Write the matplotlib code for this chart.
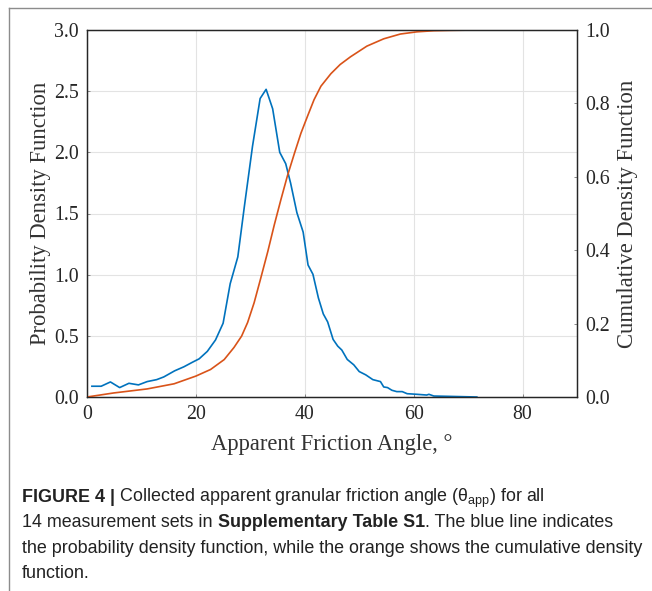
import matplotlib
matplotlib.use("Agg")
import matplotlib.pyplot as plt
from matplotlib.lines import Line2D

# probability density (blue)
pdf_angle = [0.9, 2.6, 4.3, 6.0, 7.7, 9.45, 11.05, 12.8, 14.1, 16.1, 17.8, 19.4, 20.6,
             22.1, 23.6, 25.0, 26.3, 27.7, 28.9, 30.4, 31.8, 32.9, 34.1, 35.4, 36.5,
             37.4, 38.55, 39.7, 40.6, 41.5, 42.5, 43.4, 44.2, 45.2, 46.05, 46.8, 47.8,
             49.0, 50.0, 51.2, 52.5, 53.9, 54.5, 55.2, 56.0, 56.9, 57.9, 58.8, 60.6,
             62.4, 62.8, 63.7, 66.7, 71.6]
pdf_value = [0.088, 0.088, 0.123, 0.077, 0.112, 0.099, 0.126, 0.142, 0.164, 0.214,
             0.247, 0.285, 0.312, 0.373, 0.466, 0.603, 0.926, 1.145, 1.556, 2.05, 2.44,
             2.515, 2.356, 2.0, 1.907, 1.748, 1.507, 1.348, 1.079, 1.003, 0.81, 0.679,
             0.614, 0.471, 0.416, 0.384, 0.307, 0.263, 0.208, 0.181, 0.142, 0.126,
             0.082, 0.077, 0.055, 0.044, 0.044, 0.027, 0.022, 0.016, 0.022, 0.008,
             0.005, 0.0]

# cumulative density (orange)
cdf_angle = [0.0, 4.9, 11.05, 16.0, 20.0, 22.7, 25.2, 27.0, 28.4, 29.5, 30.7, 31.9,
             33.2, 34.4, 35.6, 36.8, 38.1, 39.3, 40.5, 41.7, 42.97, 44.8, 46.5, 48.4,
             51.4, 54.5, 57.55, 60.6, 63.7, 66.7, 71.6]
cdf_value = [0.0, 0.011, 0.022, 0.036, 0.057, 0.075, 0.102, 0.135, 0.166, 0.203, 0.257,
             0.323, 0.396, 0.469, 0.537, 0.602, 0.664, 0.719, 0.765, 0.810, 0.847,
             0.881, 0.906, 0.927, 0.956, 0.976, 0.989, 0.995, 0.998, 0.999, 1.0]

x_ticks = [0, 20, 40, 60, 80]
left_ticks = [0.0, 0.5, 1.0, 1.5, 2.0, 2.5, 3.0]
right_ticks = [0.0, 0.2, 0.4, 0.6, 0.8, 1.0]

caption = [
    [("FIGURE 4 |", "bold"), (" Collected apparent granular friction angle (θ$_{\\mathregular{app}}$) for all", "normal")],
    [("14 measurement sets in ", "normal"), ("Supplementary Table S1", "bold"), (". The blue line indicates", "normal")],
    [("the probability density function, while the orange shows the cumulative density", "normal")],
    [("function.", "normal")],
]

plt.rcParams["mathtext.fontset"] = "custom"
plt.rcParams["mathtext.rm"] = "Liberation Sans"

serif = "Liberation Serif"
dark = "#262626"
blue = "#0072BD"
orange = "#D95319"

fig = plt.figure(figsize=(6.52, 5.91), dpi=100)
ax = fig.add_axes([87/652, 1-397/591, 490/652, 367/591])
ax2 = ax.twinx()

ax.plot(pdf_angle, pdf_value, color=blue, lw=1.2)
ax2.plot(cdf_angle, cdf_value, color=orange, lw=1.2)

ax.set_xlim(0, 90)
ax.set_ylim(0, 3)
ax2.set_ylim(0, 1)
ax.set_xticks(x_ticks)
ax.set_yticks(left_ticks)
ax2.set_yticks(right_ticks)
ax.set_yticklabels(["%.1f" % t for t in left_ticks])
ax2.set_yticklabels(["%.1f" % t for t in right_ticks])
ax.grid(True, color="#e3e3e3", lw=0.8)
ax.set_axisbelow(True)

for a in (ax, ax2):
    a.tick_params(direction="in", length=2, width=0.6, color="#777777",
                  labelsize=14.3, labelcolor=dark, pad=6)
    for lab in a.get_xticklabels() + a.get_yticklabels():
        lab.set_fontfamily(serif)
    for s in a.spines.values():
        s.set_color(dark)
        s.set_linewidth(0.9)

ax.set_xlabel("Apparent Friction Angle, °", fontfamily=serif, fontsize=16.3, color="#333333", labelpad=7)
ax.set_ylabel("Probability Density Function", fontfamily=serif, fontsize=16.3, color="#333333", labelpad=2)
ax2.set_ylabel("Cumulative Density Function", fontfamily=serif, fontsize=16.3, color="#333333", labelpad=5)

# page frame lines
fig.add_artist(Line2D([9/652, 9/652], [0, 1-8/591], transform=fig.transFigure, color="#8c8c8c", lw=1))
fig.add_artist(Line2D([9/652, 1], [1-8/591, 1-8/591], transform=fig.transFigure, color="#8c8c8c", lw=1))

# caption, piece by piece
renderer = fig.canvas.get_renderer()
y = 1 - 502/591
for line in caption:
    x = 22/652
    for txt, w in line:
        t = fig.text(x, y, txt, fontfamily="Liberation Sans", fontsize=12.9,
                     fontweight=w, color="#222222", va="baseline", ha="left")
        bb = t.get_window_extent(renderer)
        x += bb.width / fig.bbox.width
    y -= 25.3/591

fig.savefig("out.png", dpi=100)
